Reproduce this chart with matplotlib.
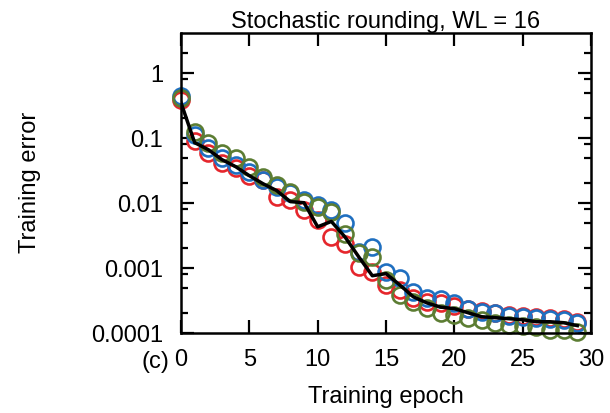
import matplotlib
matplotlib.use("Agg")
import matplotlib.pyplot as plt
import numpy as np
from matplotlib.ticker import FixedLocator, LogLocator, NullFormatter

plt.rcParams["font.family"] = ["Liberation Sans", "DejaVu Sans"]

# ── data ─────────────────────────────────────────────────────────────────────
epochs = np.arange(30)

err_red = [0.388, 0.0909, 0.0594, 0.0417, 0.0349, 0.0263, 0.0228, 0.0125, 0.0112, 0.0079,
           0.0055, 0.0030, 0.0023, 0.00105, 0.00088, 0.00055, 0.00046, 0.00035, 0.00030, 0.00029,
           0.00026, 0.000237, 0.00022, 0.000205, 0.000191, 0.000185, 0.000178, 0.000172, 0.000166, 0.000149]
err_blue = [0.448, 0.112, 0.0709, 0.0498, 0.0388, 0.0303, 0.0228, 0.0178, 0.0144, 0.0112,
            0.0094, 0.0079, 0.0050, 0.00178, 0.00213, 0.00088, 0.00071, 0.00043, 0.00035, 0.00033,
            0.00029, 0.000237, 0.000213, 0.000205, 0.000185, 0.000178, 0.000172, 0.000166, 0.00016, 0.000144]
err_green = [0.417, 0.125, 0.0847, 0.0594, 0.0498, 0.0362, 0.0254, 0.0191, 0.0149, 0.0105,
             0.0088, 0.0073, 0.0033, 0.00172, 0.00149, 0.00066, 0.00039, 0.00030, 0.000245, 0.000205,
             0.000191, 0.000172, 0.00016, 0.000144, 0.000134, 0.00013, 0.000125, 0.000112, 0.000112, 0.000105]
err_mean = [0.349, 0.0847, 0.0661, 0.0464, 0.0362, 0.0263, 0.0198, 0.0155, 0.0105, 0.0101,
            0.0043, 0.0052, 0.0030, 0.00149, 0.00076, 0.00082, 0.00055, 0.00036, 0.00029, 0.00025,
            0.000237, 0.000205, 0.000178, 0.000172, 0.000166, 0.00016, 0.000149, 0.000149, 0.000144, 0.00013]

y_ticks = [1, 0.1, 0.01, 0.001, 0.0001]
y_ticklabels = ["1", "0.1", "0.01", "0.001", "0.0001"]
x_ticks = [0, 5, 10, 15, 20, 25, 30]

COLORS = {"red": "#e5262c", "blue": "#1f6fc0", "green": "#5c7d33"}
FS = 17

fig = plt.figure(figsize=(6.10, 4.14), dpi=100)
ax = fig.add_axes([181 / 610, 1 - 334 / 414, 410 / 610, 300 / 414])

for vals, c in [(err_red, "red"), (err_blue, "blue"), (err_green, "green")]:
    ax.plot(epochs, vals, linestyle="none", marker="o", markersize=11.5,
            markerfacecolor="none", markeredgecolor=COLORS[c], markeredgewidth=1.9,
            clip_on=False)
ax.plot(epochs, err_mean, color="black", linewidth=2.5, zorder=5)

ax.set_yscale("log")
ax.set_xlim(0, 30)
ax.set_ylim(1e-4, 10 ** 0.615)

ax.yaxis.set_major_locator(FixedLocator(y_ticks))
ax.set_yticklabels(y_ticklabels)
ax.yaxis.set_minor_locator(LogLocator(base=10, subs=[2, 5, 8], numticks=20))
ax.yaxis.set_minor_formatter(NullFormatter())
ax.set_xticks(x_ticks)

ax.tick_params(axis="both", which="major", direction="in", length=9.5, width=1.6,
               labelsize=FS, top=True, right=True)
ax.tick_params(axis="y", which="minor", direction="in", length=5, width=1.6, right=True)
ax.tick_params(axis="x", which="major", pad=11)
ax.tick_params(axis="y", which="major", pad=13)
for s in ax.spines.values():
    s.set_linewidth(1.8)

fig.text(386 / 610, 1 - 28 / 414, "Stochastic rounding, WL = 16", ha="center",
         va="baseline", fontsize=FS)
fig.text(386 / 610, 1 - 403 / 414, "Training epoch", ha="center", va="baseline", fontsize=FS)
fig.text(30 / 610, 1 - 182 / 414, "Training error", ha="center", va="center",
         rotation=90, fontsize=FS)
fig.text(155 / 610, 1 - 362 / 414, "(c)", ha="center", va="center", fontsize=FS)

fig.savefig("out.png", dpi=100)
